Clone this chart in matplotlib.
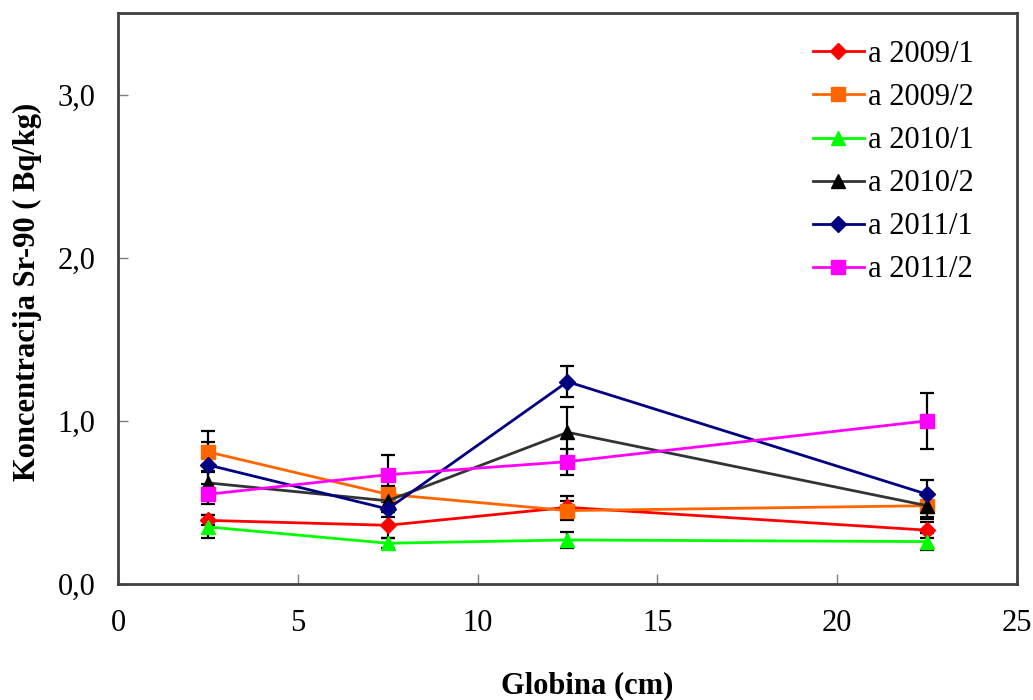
import matplotlib.pyplot as plt

# Sr-90 concentration vs depth
depth = [2.5, 7.5, 12.5, 22.5]

labels = ['a 2009/1', 'a 2009/2', 'a 2010/1', 'a 2010/2', 'a 2011/1', 'a 2011/2']

a2009_1 = [0.39, 0.36, 0.47, 0.33]
a2009_2 = [0.81, 0.55, 0.45, 0.48]
a2010_1 = [0.35, 0.25, 0.27, 0.26]
a2010_2 = [0.62, 0.51, 0.93, 0.48]
a2011_1 = [0.73, 0.46, 1.24, 0.55]
a2011_2 = [0.55, 0.67, 0.75, 1.00]

err2009_1 = [0.03, 0.08, 0.07, 0.05]
err2009_2 = [0.125, 0.05, 0.06, 0.07]
err2010_1 = [0.07, 0.03, 0.05, 0.05]
err2010_2 = [0.07, 0.05, 0.155, 0.08]
err2011_1 = [0.14, 0.05, 0.095, 0.09]
err2011_2 = [0.06, 0.12, 0.08, 0.17]

series = [a2009_1, a2009_2, a2010_1, a2010_2, a2011_1, a2011_2]
errors = [err2009_1, err2009_2, err2010_1, err2010_2, err2011_1, err2011_2]
line_colors = ['#FF0000', '#FF6600', '#00FF00', '#333333', '#000080', '#FF00FF']
marker_colors = ['#FF0000', '#FF6600', '#00FF00', '#000000', '#000080', '#FF00FF']
markers = ['D', 's', '^', '^', 'D', 's']
msizes = [8, 10, 10, 10, 8, 10]

plt.rcParams['font.family'] = ['Liberation Serif', 'DejaVu Serif']

fig = plt.figure(figsize=(10.33, 7), dpi=100)
ax = fig.add_axes([0.1142, 0.1657, 0.8703, 0.8157])

for y, e, lc, mc, m, ms, lab in zip(series, errors, line_colors, marker_colors,
                                      markers, msizes, labels):
    ax.errorbar(depth, y, yerr=e, fmt='none', ecolor='black', elinewidth=1.6,
                capsize=5, capthick=1.6, zorder=2)
    ax.plot(depth, y, color=lc, lw=2, marker=m, markersize=ms,
            markerfacecolor=mc, markeredgecolor=mc, label=lab, zorder=3)

ax.set_xlim(0, 25)
ax.set_ylim(0, 3.5)
ax.set_xticks([0, 5, 10, 15, 20, 25])
ax.set_yticks([0, 1, 2, 3])
ax.set_yticklabels(['0,0', '1,0', '2,0', '3,0'])
ax.tick_params(direction='in', length=7, width=1, color='#808080',
               labelsize=22)
ax.tick_params(axis='x', pad=18)
ax.tick_params(axis='y', pad=16)
for s in ax.spines.values():
    s.set_color('#404040')
    s.set_linewidth(2)

ax.set_xlabel('Globina (cm)', fontsize=22, fontweight='bold')
ax.set_ylabel('Koncentracija Sr-90 ( Bq/kg)', fontsize=22, fontweight='bold')
ax.xaxis.set_label_coords(0.522, -0.152)
ax.yaxis.set_label_coords(-0.0845, 0.511)

ax.legend(loc='upper right', frameon=False, fontsize=22, handlelength=1.65,
          handletextpad=0.15, labelspacing=0.46, borderaxespad=0.3,
          bbox_to_anchor=(0.976, 0.99))

fig.savefig('out.png', dpi=100)
